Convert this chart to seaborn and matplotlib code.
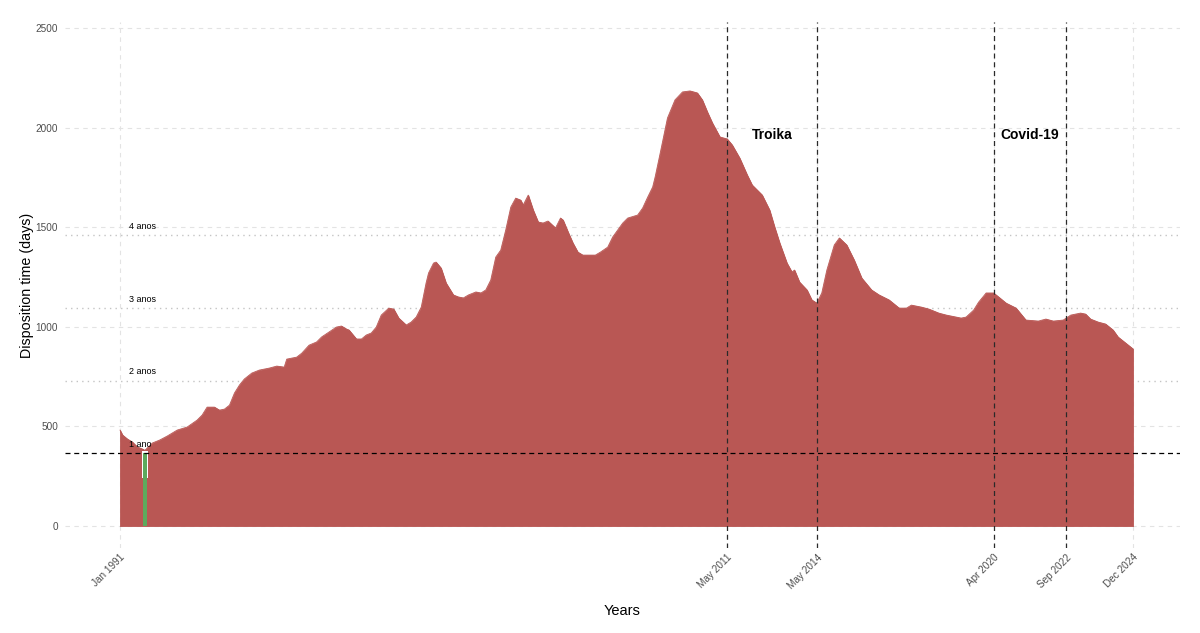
import matplotlib
matplotlib.use("Agg")
import matplotlib.pyplot as plt
import numpy as np
import pandas as pd
import seaborn as sns

# ---- data ----
months = [
    "1991-01", "1991-02", "1991-04", "1991-06", "1991-08", "1991-10", "1991-11",
    "1992-02", "1992-05", "1992-08", "1992-12", "1993-04", "1993-08", "1993-10", "1993-12",
    "1994-03", "1994-05", "1994-07", "1994-09", "1994-11", "1995-01", "1995-03", "1995-06",
    "1995-09", "1996-01", "1996-04", "1996-07", "1996-08", "1996-12", "1997-02", "1997-05",
    "1997-08", "1997-10", "1998-01", "1998-04", "1998-06", "1998-08", "1998-09", "1998-12",
    "1999-02", "1999-04", "1999-06", "1999-08", "1999-10", "2000-01", "2000-03", "2000-05",
    "2000-08", "2000-10", "2000-12", "2001-02", "2001-04", "2001-05", "2001-07", "2001-08",
    "2001-10", "2001-12", "2002-03", "2002-05", "2002-07", "2002-09", "2002-12", "2003-02",
    "2003-04", "2003-06", "2003-08", "2003-10", "2003-12", "2004-02", "2004-04", "2004-06",
    "2004-07", "2004-09", "2004-11", "2005-01", "2005-03", "2005-05", "2005-08", "2005-10",
    "2005-11", "2006-01", "2006-03", "2006-05", "2006-07", "2006-12", "2007-02", "2007-05",
    "2007-07", "2007-11", "2008-01", "2008-05", "2008-07", "2008-09", "2008-11", "2008-12",
    "2009-02", "2009-05", "2009-08", "2009-11", "2010-02", "2010-05", "2010-07", "2010-09",
    "2010-11", "2011-02", "2011-05", "2011-07", "2011-10", "2012-01", "2012-03", "2012-07",
    "2012-10", "2012-12", "2013-02", "2013-05", "2013-07", "2013-08", "2013-10", "2014-01",
    "2014-03", "2014-05", "2014-07", "2014-09", "2014-12", "2015-02", "2015-05", "2015-08",
    "2015-11", "2016-03", "2016-06", "2016-10", "2017-02", "2017-05", "2017-07", "2017-11",
    "2018-02", "2018-06", "2018-09", "2018-11", "2019-03", "2019-05", "2019-08", "2019-10",
    "2020-01", "2020-04", "2020-06", "2020-09", "2021-01", "2021-05", "2021-10", "2022-01",
    "2022-04", "2022-08", "2022-11", "2023-03", "2023-05", "2023-07", "2023-10", "2024-01",
    "2024-04", "2024-06", "2024-09", "2024-12",
]
days = [
    482, 457, 437, 422, 397, 387, 380,
    417, 432, 452, 482, 497, 532, 557, 597,
    597, 582, 587, 607, 668, 708, 738, 768,
    783, 793, 803, 798, 838, 848, 868, 908,
    924, 949, 974, 999, 1004, 989, 984, 939,
    939, 959, 969, 999, 1059, 1094, 1089, 1044,
    1009, 1024, 1049, 1099, 1220, 1270, 1320, 1325,
    1295, 1220, 1160, 1150, 1145, 1160, 1175, 1170,
    1185, 1235, 1350, 1385, 1486, 1601, 1646, 1636,
    1611, 1661, 1586, 1526, 1521, 1531, 1496, 1546,
    1536, 1476, 1421, 1375, 1360, 1360, 1375, 1400,
    1451, 1521, 1546, 1561, 1596, 1651, 1702, 1752,
    1872, 2048, 2139, 2179, 2184, 2174, 2139, 2078,
    2023, 1953, 1943, 1913, 1847, 1762, 1712, 1662,
    1586, 1501, 1421, 1320, 1275, 1285, 1225, 1185,
    1135, 1119, 1170, 1285, 1411, 1446, 1411, 1335,
    1245, 1185, 1160, 1135, 1094, 1094, 1109, 1099,
    1089, 1069, 1059, 1054, 1044, 1049, 1084, 1124,
    1170, 1170, 1150, 1119, 1094, 1034, 1029, 1039,
    1029, 1034, 1059, 1069, 1064, 1039, 1024, 1014,
    984, 949, 919, 889,
]

event_dates = ["2011-05", "2014-05", "2020-04", "2022-09"]
tick_dates = ["1991-01", "2011-05", "2014-05", "2020-04", "2022-09", "2024-12"]
tick_labels = ["Jan 1991", "May 2011", "May 2014", "Apr 2020", "Sep 2022", "Dec 2024"]
period_labels = ["Troika", "Covid-19"]
period_starts = ["2011-05", "2020-04"]
period_ends = ["2014-05", "2022-09"]
year_marks = [365, 730, 1095, 1460]
year_labels = ["1 ano", "2 anos", "3 anos", "4 anos"]
marker_dates = ["1991-11"]
marker_values = [365]
marker_band = [240, 375]
y_ticks = [0, 500, 1000, 1500, 2000, 2500]

# ---- figure ----
sns.set_theme(style="white")
plt.rcParams["font.family"] = ["Liberation Sans", "DejaVu Sans"]

df = pd.DataFrame({"date": pd.to_datetime(months), "days": days})

fig = plt.figure(figsize=(12, 6.33), dpi=100)
ax = fig.add_axes([65 / 1200, 85 / 633, 1115 / 1200, 526 / 633])

fill_col = "#B95754"
ax.fill_between(df["date"], 0, df["days"], color=fill_col, edgecolor=fill_col,
                linewidth=0.6, zorder=2)
sns.lineplot(data=df, x="date", y="days", ax=ax, color=fill_col, linewidth=0.6,
             zorder=3, alpha=1.0)

# green marker bar
mdt = pd.to_datetime(marker_dates)
ax.bar(mdt, [marker_band[1] - marker_band[0]], bottom=marker_band[0], width=75,
       color="white", linewidth=0, zorder=4)
ax.bar(mdt, marker_values, width=42, color="#5DAA5D", linewidth=0, zorder=5)

# x range with expansion
d0, d1 = df["date"].iloc[0], df["date"].iloc[-1]
span = d1 - d0
ax.set_xlim(d0 - span * (55 / 1013), d1 + span * (47 / 1013))
ax.set_ylim(-110, 2530)

# grid
ax.set_yticks(y_ticks)
ax.set_yticklabels([str(v) for v in y_ticks])
ax.set_xticks(pd.to_datetime(tick_dates))
ax.set_xticklabels(tick_labels, rotation=45, ha="right", va="top", rotation_mode="anchor")
ax.grid(True, color="#E3E3E3", linestyle=(0, (4, 4)), linewidth=0.8, zorder=0)
ax.set_axisbelow(True)
for s in ax.spines.values():
    s.set_visible(False)
ax.tick_params(axis="both", length=0, labelsize=7.2, labelcolor="#4D4D4D")
ax.tick_params(axis="y", pad=5)
ax.tick_params(axis="x", pad=3)

# horizontal reference lines
ax.axhline(year_marks[0], color="black", linestyle=(0, (4, 3)), linewidth=0.9, zorder=6)
for v in year_marks[1:]:
    ax.axhline(v, color="#C4C4C4", linestyle=(0, (1, 3)), linewidth=1.0, zorder=1)
lab_x = pd.Timestamp("1991-04-15")
for v, t in zip(year_marks, year_labels):
    ax.text(lab_x, v + 22, t, fontsize=6.5, color="black", ha="left", va="bottom", zorder=7)

# event lines
for d in pd.to_datetime(event_dates):
    ax.axvline(d, color="#2A2A2A", linestyle=(0, (4, 3)), linewidth=0.9, zorder=6)

for lab, a, b in zip(period_labels, pd.to_datetime(period_starts), pd.to_datetime(period_ends)):
    mid = a + (b - a) / 2
    ax.text(mid, 1965, lab, fontsize=10, fontweight="bold", color="black",
            ha="center", va="center", zorder=7)

ax.set_xlabel("Years", fontsize=10.5, color="black", labelpad=10)
ax.set_ylabel("Disposition time (days)", fontsize=10.3, color="black", labelpad=1)

fig.savefig("out.png", dpi=100)
